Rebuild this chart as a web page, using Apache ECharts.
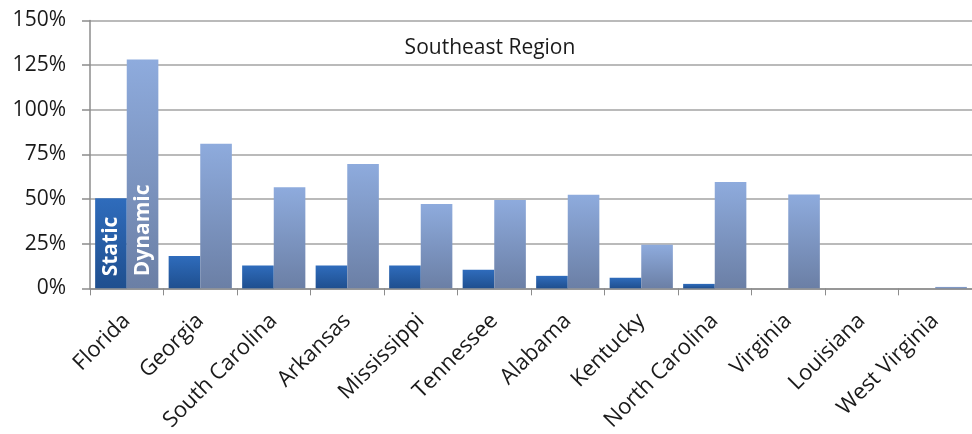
<!DOCTYPE html>
<html>
<head>
<meta charset="utf-8">
<script src="https://cdn.jsdelivr.net/npm/echarts@6/dist/echarts.min.js"></script>
<style>
  html, body { margin: 0; padding: 0; background: #fff; }
  #chart { width: 972px; height: 434px; }
</style>
</head>
<body>
<div id="chart"></div>
<script>
// States in the Southeast region
const states = ['Florida', 'Georgia', 'South Carolina', 'Arkansas', 'Mississippi', 'Tennessee',
                'Alabama', 'Kentucky', 'North Carolina', 'Virginia', 'Louisiana', 'West Virginia'];
// Percent values per state
const staticValues  = [50.5, 18.1, 12.8, 12.8, 12.8, 10.4, 7.0, 6.0, 2.5, 0, 0, 0];
const dynamicValues = [128.2, 81.0, 56.6, 69.6, 47.2, 49.5, 52.4, 24.4, 59.5, 52.6, 0, 0.8];
// Y axis ticks
const yMin = 0, yMax = 150, yStep = 25;
const chartTitle = 'Southeast Region';
const seriesNames = ['Static', 'Dynamic'];

const font = '"Open Sans", "Noto Sans", sans-serif';

function grad(top, bottom) {
  return new echarts.graphic.LinearGradient(0, 0, 0, 1, [
    { offset: 0, color: top },
    { offset: 1, color: bottom }
  ]);
}

// Series name written vertically inside the first bar
const insideLabel = (text) => ({
  show: true,
  position: 'insideBottom',
  distance: 12,
  rotate: 90,
  align: 'left',
  verticalAlign: 'middle',
  formatter: text,
  color: '#ffffff',
  fontFamily: font,
  fontWeight: 'bold',
  fontSize: 21
});

const staticData = staticValues.map((v, i) => i === 0 ? { value: v, label: insideLabel(seriesNames[0]) } : v);
const dynamicData = dynamicValues.map((v, i) => i === 0 ? { value: v, label: insideLabel(seriesNames[1]) } : v);

const chart = echarts.init(document.getElementById('chart'), null, { renderer: 'canvas' });
chart.setOption({
  animation: false,
  backgroundColor: '#ffffff',
  title: {
    text: chartTitle,
    left: 485,
    top: 33,
    textAlign: 'center',
    textStyle: { fontFamily: font, fontWeight: 'normal', fontSize: 21, color: '#1a1a1a' }
  },
  grid: { left: 90, top: 20.5, width: 885, bottom: 145, containLabel: false },
  xAxis: {
    type: 'category',
    data: states,
    axisLine: { show: true, lineStyle: { color: '#8c8c8c', width: 1.5 } },
    axisTick: { show: true, length: 7, lineStyle: { color: '#8c8c8c', width: 1 } },
    axisLabel: {
      rotate: 45,
      interval: 0,
      margin: 29,
      fontFamily: font,
      fontSize: 22,
      color: '#1a1a1a'
    }
  },
  yAxis: {
    type: 'value',
    min: yMin,
    max: yMax,
    interval: yStep,
    axisLine: { show: true, lineStyle: { color: '#8c8c8c', width: 1.5 } },
    axisTick: { show: true, length: 8, lineStyle: { color: '#8c8c8c', width: 1.5 } },
    splitLine: { show: true, lineStyle: { color: '#a3a3a3', width: 1.5 } },
    axisLabel: {
      formatter: '{value}%',
      margin: 24,
      fontFamily: font,
      fontSize: 21,
      color: '#1a1a1a'
    }
  },
  series: [
    {
      name: seriesNames[0],
      type: 'bar',
      data: staticData,
      barGap: '0%',
      barCategoryGap: '14%',
      itemStyle: { color: grad('#2f6cbc', '#1f4f8f') }
    },
    {
      name: seriesNames[1],
      type: 'bar',
      data: dynamicData,
      barGap: '0%',
      barCategoryGap: '14%',
      itemStyle: { color: grad('#8eabdd', '#6b7fa5') }
    }
  ]
});
</script>
</body>
</html>
